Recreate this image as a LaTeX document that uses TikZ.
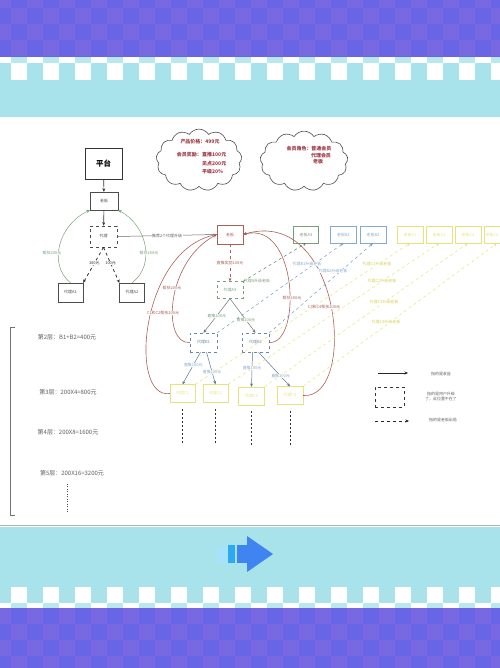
\documentclass[tikz,border=0pt]{standalone}
\usepackage{fontspec}
\newfontfamily\cjk{Noto Sans CJK SC}
\usetikzlibrary{shapes.symbols,arrows.meta}
\definecolor{purpA}{HTML}{6865E6}
\definecolor{purpB}{HTML}{7868E2}
\definecolor{cyanbg}{HTML}{A8E3EB}
\definecolor{bossc}{HTML}{A8605A}
\definecolor{greenc}{HTML}{78A078}
\definecolor{bluec}{HTML}{86AACE}
\definecolor{yelc}{HTML}{E8E27C}
\definecolor{yeltext}{HTML}{D8CF50}
\definecolor{redtext}{HTML}{9E3A46}
\definecolor{graytext}{HTML}{606060}
\definecolor{arrowblue}{HTML}{3F84F0}
\tikzset{
  base/.style={font=\cjk\fontsize{4}{5}\selectfont, inner sep=0.5pt},
  sbox/.style={base, draw=#1, text=#1, minimum width=26, minimum height=18},
  sbox/.default=graytext,
  lab/.style={base, fill=white, inner sep=0.4pt},
  arr/.style={-{Stealth[length=3.5pt,width=3pt]}},
  cloudtxt/.style={font=\cjk\bfseries\fontsize{5}{6}\selectfont, text=redtext, inner sep=0pt},
  laytxt/.style={font=\cjk\fontsize{6}{7}\selectfont, text=graytext, inner sep=0pt},
  mycloud/.style={cloud, cloud puffs=13, cloud puff arc=115, draw=black!70, line width=0.6pt},
}
\begin{document}
\begin{tikzpicture}[x=1bp,y=-1bp]
\useasboundingbox (0,0) rectangle (500,668);
% ---------- top band ----------
\fill[purpA] (0,0) rectangle (500,57);
\foreach \i in {0,...,31}{\foreach \j in {0,...,3}{
  \pgfmathtruncatemacro\p{mod(\i+\j,2)}
  \ifnum\p=0 \fill[purpB] (\i*16-5,\j*16-8) rectangle ++(16,16); \fi}}
\fill[cyanbg] (0,57) rectangle (500,117);
\fill[white] (0,57) rectangle (500,63);
\foreach \i in {0,...,15}{
  \fill[cyanbg!80!white] (\i*32+11,57) rectangle ++(16,6);
  \fill[white] (\i*32+11,63) rectangle ++(16,17);}
% ---------- bottom band ----------
\draw[gray!60, line width=0.8pt] (0,525.5) -- (500,525.5);
\fill[cyanbg] (0,527) rectangle (500,608);
\foreach \i in {0,...,15}{
  \fill[white] (\i*32+11,587) rectangle ++(16,16);}
\fill[white] (0,603) rectangle (500,608);
\foreach \i in {0,...,15}{
  \fill[cyanbg!80!white] (\i*32+11,603) rectangle ++(16,5);}
\fill[purpA] (0,608) rectangle (500,668);
\foreach \i in {0,...,31}{\foreach \j in {0,...,3}{
  \pgfmathtruncatemacro\p{mod(\i+\j,2)}
  \ifnum\p=0 \fill[purpB] (\i*16-5,\j*16+608) rectangle ++(16,16); \fi}}
\fill[arrowblue] (247,536) -- (273,554) -- (247,572) -- cycle;
\fill[arrowblue] (237,545) rectangle (248,563);
\fill[arrowblue!70!cyan] (228,545) rectangle (235,563);
\fill[cyan!35!white] (217,546) rectangle (226,562);
% ---------- clouds ----------
\node[mycloud, minimum width=86, minimum height=62] (cl1) at (199,160) {};
\node[cloudtxt] (t11) at (200,142) {产品价格：499元};
\node[cloudtxt, anchor=east] (t12) at (202,155) {会员奖励：};
\node[cloudtxt, anchor=west] (t13) at (202,155) {直推100元};
\node[cloudtxt, anchor=west] (t14) at (202,163.5) {见点200元};
\node[cloudtxt, anchor=west] (t15) at (202,172) {平级20\%};
\node[mycloud, minimum width=88, minimum height=60] (cl2) at (304,161) {};
\node[cloudtxt] (t21) at (309,149) {会员角色：普通会员};
\node[cloudtxt] (t22) at (321,155.5) {代理会员};
\node[cloudtxt] (t23) at (318,162) {老板};
% ---------- top-left tree ----------
\node[draw=black!80, line width=0.7pt, minimum width=37, minimum height=31, font=\cjk\bfseries\fontsize{7.5}{9}\selectfont] (plat) at (103.5,163.5) {平台};
\node[sbox=black!70, minimum width=28] (tb) at (104,201) {老板};
\node[sbox=black!70, dashed, line width=0.8pt, minimum width=27, minimum height=21] (dl) at (103.5,236.5) {代理};
\node[sbox=black!70, minimum width=25, minimum height=19] (a1) at (70.5,292.5) {代理A1};
\node[sbox=black!70, minimum width=25, minimum height=19] (a2) at (132,292.5) {代理A2};
\draw[arr, black!80, line width=0.6pt] (plat) -- (tb);
\draw[arr, black!80, line width=0.6pt] (tb) -- (dl);
\draw[arr, black!80, dashed, line width=0.8pt] (dl.south) -- (a1.north east) node[lab, pos=0.45] {100元};
\draw[arr, black!80, dashed, line width=0.8pt] (dl.south) -- (a2.north west) node[lab, pos=0.45] {100元};
\draw[arr, greenc, line width=0.5pt] (a1.north) .. controls (48,265) and (58,225) .. (tb.south west);
\draw[arr, greenc, line width=0.5pt] (a2.north) .. controls (156,265) and (147,225) .. (tb.south east);
\node[lab, text=greenc] (g1) at (52,253) {帮扶200元};
\node[lab, text=greenc] (g2) at (149,253) {帮扶200元};
% ---------- central structure ----------
\node[sbox=bossc, minimum width=26, minimum height=19] (boss) at (230,234.5) {老板};
\draw[black!60, line width=0.5pt] (dl.east) -- (boss.west) node[lab, text=graytext, pos=0.5] {推荐2个代理升级};
\node[sbox=greenc, dashed, minimum width=26, minimum height=17] (a3) at (230,290) {代理A3};
\node[sbox=greenc, minimum width=25, minimum height=17] (bA3) at (306,234.5) {老板A3};
\node[sbox=bluec, minimum width=26, minimum height=17] (bB1) at (343.5,234.5) {老板B1};
\node[sbox=bluec, minimum width=26, minimum height=17] (bB2) at (373,234.5) {老板B2};
\node[sbox=yelc, minimum width=26, minimum height=17] (bC1) at (410,234.5) {老板C1};
\node[sbox=yelc, minimum width=26, minimum height=17] (bC2) at (439,234.5) {老板C2};
\node[sbox=yelc, minimum width=26, minimum height=17] (bC3) at (468,234.5) {老板C3};
\node[draw=yelc, minimum width=26, minimum height=17, inner sep=0pt] (bC4) at (497,234.5) {};
\node[base, text=yelc, anchor=west] (bC4t) at (485,234.5) {老板C4};
\node[sbox=bluec!80!black, dashed, minimum width=27, minimum height=19] (b1) at (203.5,342.5) {代理B1};
\node[sbox=bluec!80!black, dashed, minimum width=27, minimum height=19] (b2) at (255.5,342.5) {代理B2};
\node[sbox=yelc, minimum width=25, minimum height=18] (c1) at (182.5,393.5) {代理C1};
\node[sbox=yelc, minimum width=25, minimum height=18] (c2) at (215.5,393.5) {代理C2};
\node[sbox=yelc, minimum width=26, minimum height=18] (c3) at (251.5,396) {代理C3};
\node[sbox=yelc, minimum width=26, minimum height=18] (c4) at (290,395.5) {代理C4};
\draw[arr, bossc, dashed, line width=0.5pt] (boss) -- (a3) node[lab, text=bossc, pos=0.5] {直推奖励100元};
\draw[arr, black!55, line width=0.5pt] (a3.south) -- (b1.north) node[lab, text=greenc, pos=0.5] {直推100元};
\draw[arr, black!55, line width=0.5pt] (a3.south) -- (b2.north) node[lab, text=greenc, pos=0.62] {直推100元};
\draw[arr, bluec!70!black, line width=0.5pt] (b1.south) ++(-3,0) coordinate (b1s) (b1s) -- (c1.north) node[lab, text=bluec, pos=0.4] {直推100元};
\draw[arr, bluec!70!black, line width=0.5pt] (b1.south) ++(3,0) coordinate (b1t) (b1t) -- (c2.north) node[lab, text=bluec, pos=0.62] {直推100元};
\draw[arr, bluec!70!black, line width=0.5pt] (b2.south) ++(-3,0) coordinate (b2s) (b2s) -- (c3.north) node[lab, text=bluec, pos=0.45] {直推100元};
\draw[arr, bluec!70!black, line width=0.5pt] (b2.south) ++(3,0) coordinate (b2t) (b2t) -- (c4.north) node[lab, text=bluec, pos=0.7] {直推100元};
% red support curves
\draw[arr, bossc, line width=0.6pt] (c1.west) .. controls (128,400) and (140,250) .. (boss.west);
\draw[arr, bossc, line width=0.6pt] (b1.west) .. controls (162,345) and (165,262) .. (boss.west);
\draw[arr, bossc, line width=0.6pt] (b2.east) .. controls (302,345) and (298,220) .. (boss.east);
\draw[arr, bossc, line width=0.6pt] (c4.east) .. controls (358,400) and (342,205) .. (boss.east);
\node[lab, text=bossc] (r1) at (172,288) {帮扶200元};
\node[lab, text=bossc] (r2) at (163,313) {C1和C2帮扶200元};
\node[lab, text=bossc] (r3) at (292,298) {帮扶200元};
\node[lab, text=bossc] (r4) at (324,307) {C3和C4帮扶200元};
% upgrade dashed lines
\draw[arr, greenc!80!black, dashed, line width=0.5pt] (a3.north east) -- (bA3.south);
\node[base, text=greenc] (ua) at (257,281) {代理A升级老板};
\draw[arr, bluec!90!black, dashed, line width=0.5pt] (b1.north east) -- (bB1.south);
\draw[arr, bluec!90!black, dashed, line width=0.5pt] (b2.north east) -- (bB2.south);
\node[lab, text=bluec] (ub1) at (307,264) {代理B1升级老板};
\node[lab, text=bluec] (ub2) at (333,271) {代理B2升级老板};
\draw[arr, yelc, dashed, line width=0.5pt] (c1.north east) -- (bC1.south);
\draw[arr, yelc, dashed, line width=0.5pt] (c2.north east) -- (bC2.south);
\draw[arr, yelc, dashed, line width=0.5pt] (c3.north east) -- (bC3.south);
\draw[arr, yelc, dashed, line width=0.5pt] (c4.north east) -- (bC4.south);
\node[lab, text=yeltext] (uc1) at (377,264) {代理C1升级老板};
\node[lab, text=yeltext] (uc2) at (382,281) {代理C2升级老板};
\node[lab, text=yeltext] (uc3) at (384,302) {代理C3升级老板};
\node[lab, text=yeltext] (uc4) at (386,322) {代理C4升级老板};
% continuation dashes
\foreach \n in {c1,c2,c3,c4}{
  \draw[black!80, dashed, line width=0.7pt, dash pattern=on 2pt off 2pt] (\n.south) ++(0,6) -- ++(0,34);}
% ---------- left layer summary ----------
\draw[black!55, line width=0.8pt] (15,327) -- (10,327) -- (10,515) -- (15,515);
\node[laytxt] (l2) at (67,337) {第2层：B1+B2=400元};
\node[laytxt] (l3) at (68,392) {第3层：200X4=800元};
\node[laytxt] (l4) at (68,432) {第4层：200X8=1600元};
\node[laytxt] (l5) at (72,473) {第5层：200X16=3200元};
\coordinate (dt1) at (67,484);
\coordinate (dt2) at (67,512);
\draw[black!70, line width=0.8pt, dash pattern=on 1pt off 1.5pt] (dt1) -- (dt2);
% ---------- legend ----------
\coordinate (lg1a) at (378,373);
\coordinate (lg1b) at (408,373);
\draw[arr, black!85, line width=0.6pt] (lg1a) -- (lg1b);
\node[base, text=graytext] (lt1) at (441,374) {指的是收益};
\node[draw=black!80, dashed, line width=0.7pt, minimum width=29, minimum height=20, inner sep=0pt] (lgbox) at (389.5,397) {};
\node[base, text=graytext, align=center] (lt2) at (441,397) {指的是用户升级\\了，此位置不在了};
\coordinate (lg3a) at (375,421);
\coordinate (lg3b) at (409,421);
\draw[arr, black!85, dashed, line width=0.6pt] (lg3a) -- (lg3b);
\node[base, text=graytext] (lt3) at (443,420) {指的是老板出局};
\end{tikzpicture}
\end{document}
